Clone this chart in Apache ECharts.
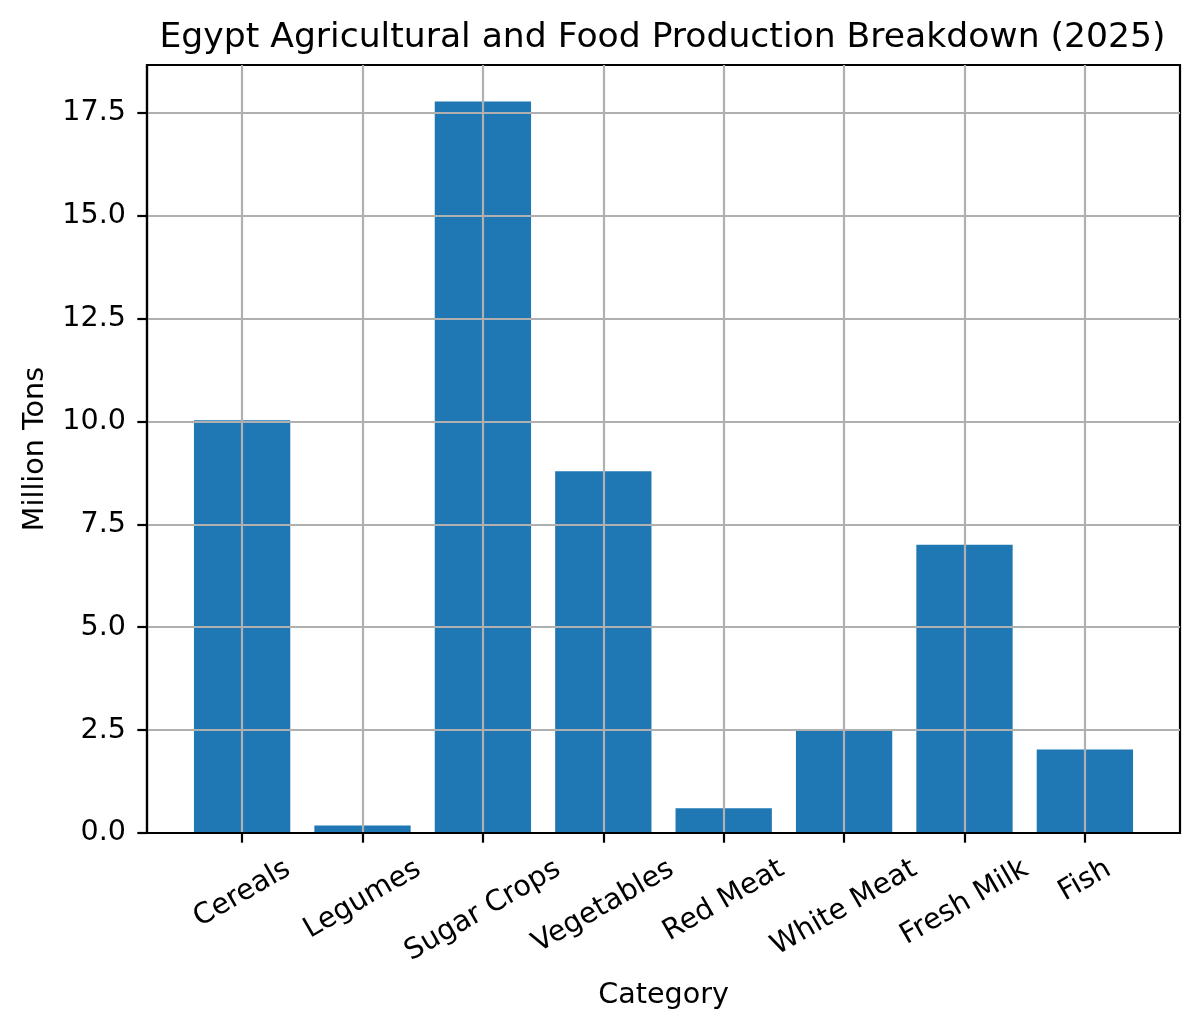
<!DOCTYPE html>
<html><head><meta charset="utf-8">
<script src="https://cdn.jsdelivr.net/npm/echarts@6/dist/echarts.min.js"></script>
<style>html,body{margin:0;padding:0;background:#fff}#c{width:1200px;height:1029px}</style>
</head><body><div id="c"></div>
<script>
const categories = ['Cereals', 'Legumes', 'Sugar Crops', 'Vegetables', 'Red Meat', 'White Meat', 'Fresh Milk', 'Fish'];
const values = [10.03, 0.18, 17.77, 8.79, 0.60, 2.48, 7.00, 2.03];
const yTicks = [0, 2.5, 5, 7.5, 10, 12.5, 15, 17.5];
const titleText = 'Egypt Agricultural and Food Production Breakdown (2025)';
const xName = 'Category';
const yName = 'Million Tons';

const FONT = 'DejaVu Sans';
const FS = 28.6;
const TFS = 34.6;
const LW = 2.2;
const gridL = 147, gridR = 20, gridT = 65, gridB = 196;
const W = 1200, H = 1029;
const plotW = W - gridL - gridR;

const n = categories.length;
const barRel = 0.8;
const span = (n - 1) + barRel;
const xMin = -barRel / 2 - 0.05 * span;
const xMax = (n - 1) + barRel / 2 + 0.05 * span;
const pxPerUnit = plotW / (xMax - xMin);
const yMax = Math.max(...values) * 1.05;

const ctx = document.createElement('canvas').getContext('2d');
ctx.font = FS + 'px "' + FONT + '"';
const rich = {};
categories.forEach((c, i) => {
  const w = ctx.measureText(c).width;
  const D = 0.25 * w + 15;
  rich['l' + i] = {
    fontSize: FS, fontFamily: FONT, color: '#000',
    padding: [1.732 * D, D, 0, 0]
  };
});

const chart = echarts.init(document.getElementById('c'), null, {renderer: 'canvas'});
chart.setOption({
  animation: false,
  backgroundColor: '#fff',
  title: {
    text: titleText,
    left: gridL + plotW / 2 - 1,
    top: 21,
    padding: 0,
    textAlign: 'center',
    textStyle: {fontFamily: FONT, fontSize: TFS, fontWeight: 'normal', color: '#000'}
  },
  grid: {
    left: gridL, right: gridR, top: gridT, bottom: gridB,
    containLabel: false, outerBoundsMode: 'none',
    show: true, borderColor: '#000', borderWidth: LW, backgroundColor: 'transparent'
  },
  xAxis: {
    type: 'value', min: xMin, max: xMax, z: 5,
    name: xName, nameLocation: 'middle', nameGap: 148,
    nameTextStyle: {fontFamily: FONT, fontSize: FS, color: '#000'},
    axisLine: {show: true, onZero: false, lineStyle: {color: '#000', width: LW}},
    axisTick: {show: true, customValues: categories.map((_, i) => i), length: 9.7, lineStyle: {color: '#000', width: LW}},
    axisLabel: {
      show: true, customValues: categories.map((_, i) => i),
      rotate: 30, align: 'center', verticalAlign: 'middle', margin: 19,
      formatter: (v) => { const i = Math.round(v); return '{l' + i + '|' + categories[i] + '}'; },
      rich: rich
    },
    splitLine: {show: true, lineStyle: {color: '#b0b0b0', width: LW}}
  },
  yAxis: {
    type: 'value', min: 0, max: yMax, z: 5,
    name: yName, nameLocation: 'middle', nameGap: 97,
    nameTextStyle: {fontFamily: FONT, fontSize: FS, color: '#000'},
    axisLine: {show: true, onZero: false, lineStyle: {color: '#000', width: LW}},
    axisTick: {show: true, customValues: yTicks, length: 9.7, lineStyle: {color: '#000', width: LW}},
    axisLabel: {
      show: true, customValues: yTicks, margin: 21,
      fontFamily: FONT, fontSize: FS, color: '#000',
      formatter: (v) => v.toFixed(1)
    },
    splitLine: {show: true, lineStyle: {color: '#b0b0b0', width: LW}}
  },
  series: [{
    type: 'bar',
    data: values.map((v, i) => [i, v]),
    barWidth: barRel * pxPerUnit,
    itemStyle: {color: '#1f77b4'},
    z: 2
  }]
});
</script>
</body></html>
